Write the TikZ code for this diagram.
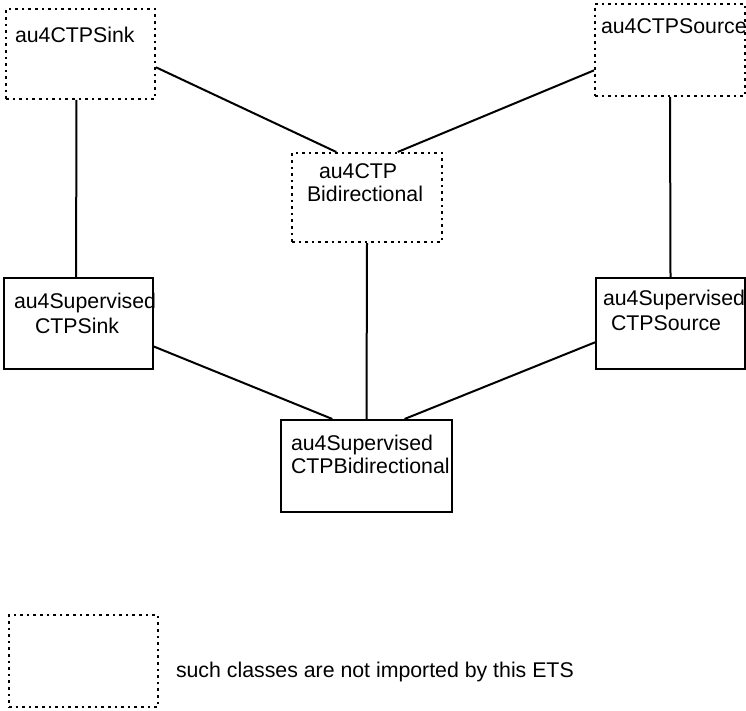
\documentclass[tikz,border=0pt]{standalone}
\usepackage{fontspec}
\setmainfont{Liberation Sans}
\begin{document}
\begin{tikzpicture}[x=1pt,y=-1pt,line width=2pt,
		cls/.style={draw,rectangle,inner sep=0pt},
		absent/.style={cls,dash pattern=on 2.6pt off 4pt},
		txt/.style={anchor=base west,inner sep=0pt,font=\fontsize{21.3}{25}\selectfont}]
		\useasboundingbox (0,0) rectangle (746,711);
		\node[absent,minimum width=149pt,minimum height=90pt] (sink) at (80.5,54) {};
		\node[absent,minimum width=150pt,minimum height=92pt] (source) at (670,50) {};
		\node[absent,minimum width=150pt,minimum height=89pt] (bidir) at (367,197.5) {};
		\node[cls,minimum width=149pt,minimum height=91pt] (supsink) at (78.5,323.5) {};
		\node[cls,minimum width=149pt,minimum height=91pt] (supsource) at (670.5,323.5) {};
		\node[cls,minimum width=171pt,minimum height=92pt] (supbidir) at (366.5,466) {};
		\node[absent,minimum width=149pt,minimum height=92pt] (legend) at (83.5,661) {};
		\node[txt] (sinktxt) at (14,43) {au4CTPSink};
		\node[txt] (sourcetxt) at (600,34) {au4CTPSource};
		\node[txt] (bidirtxta) at (318,179) {au4CTP};
		\node[txt] (bidirtxtb) at (306,202) {Bidirectional};
		\node[txt] (supsinktxta) at (13,308) {au4Supervised};
		\node[txt] (supsinktxtb) at (34,333) {CTPSink};
		\node[txt] (supsourcetxta) at (602,305.5) {au4Supervised};
		\node[txt] (supsourcetxtb) at (610,330.5) {CTPSource};
		\node[txt] (supbidirtxta) at (290,450.5) {au4Supervised};
		\node[txt] (supbidirtxtb) at (290,473.5) {CTPBidirectional};
		\node[txt] (legendtxt) at (175,677) {such classes are not imported by this ETS};
		\draw (sink.-10.6) -- (bidir.124);
		\draw (source.-165.9) -- (bidir.56.9);
		\draw (sink.-95.7) -- (supsink.93.8);
		\draw (source.south) -- (supsource.north);
		\draw (bidir.south) -- (supbidir.north);
		\draw (supsink.-17.5) -- (supbidir.126.9);
		\draw (supsource.-166.1) -- (supbidir.51.6);
	\end{tikzpicture}
\end{document}
